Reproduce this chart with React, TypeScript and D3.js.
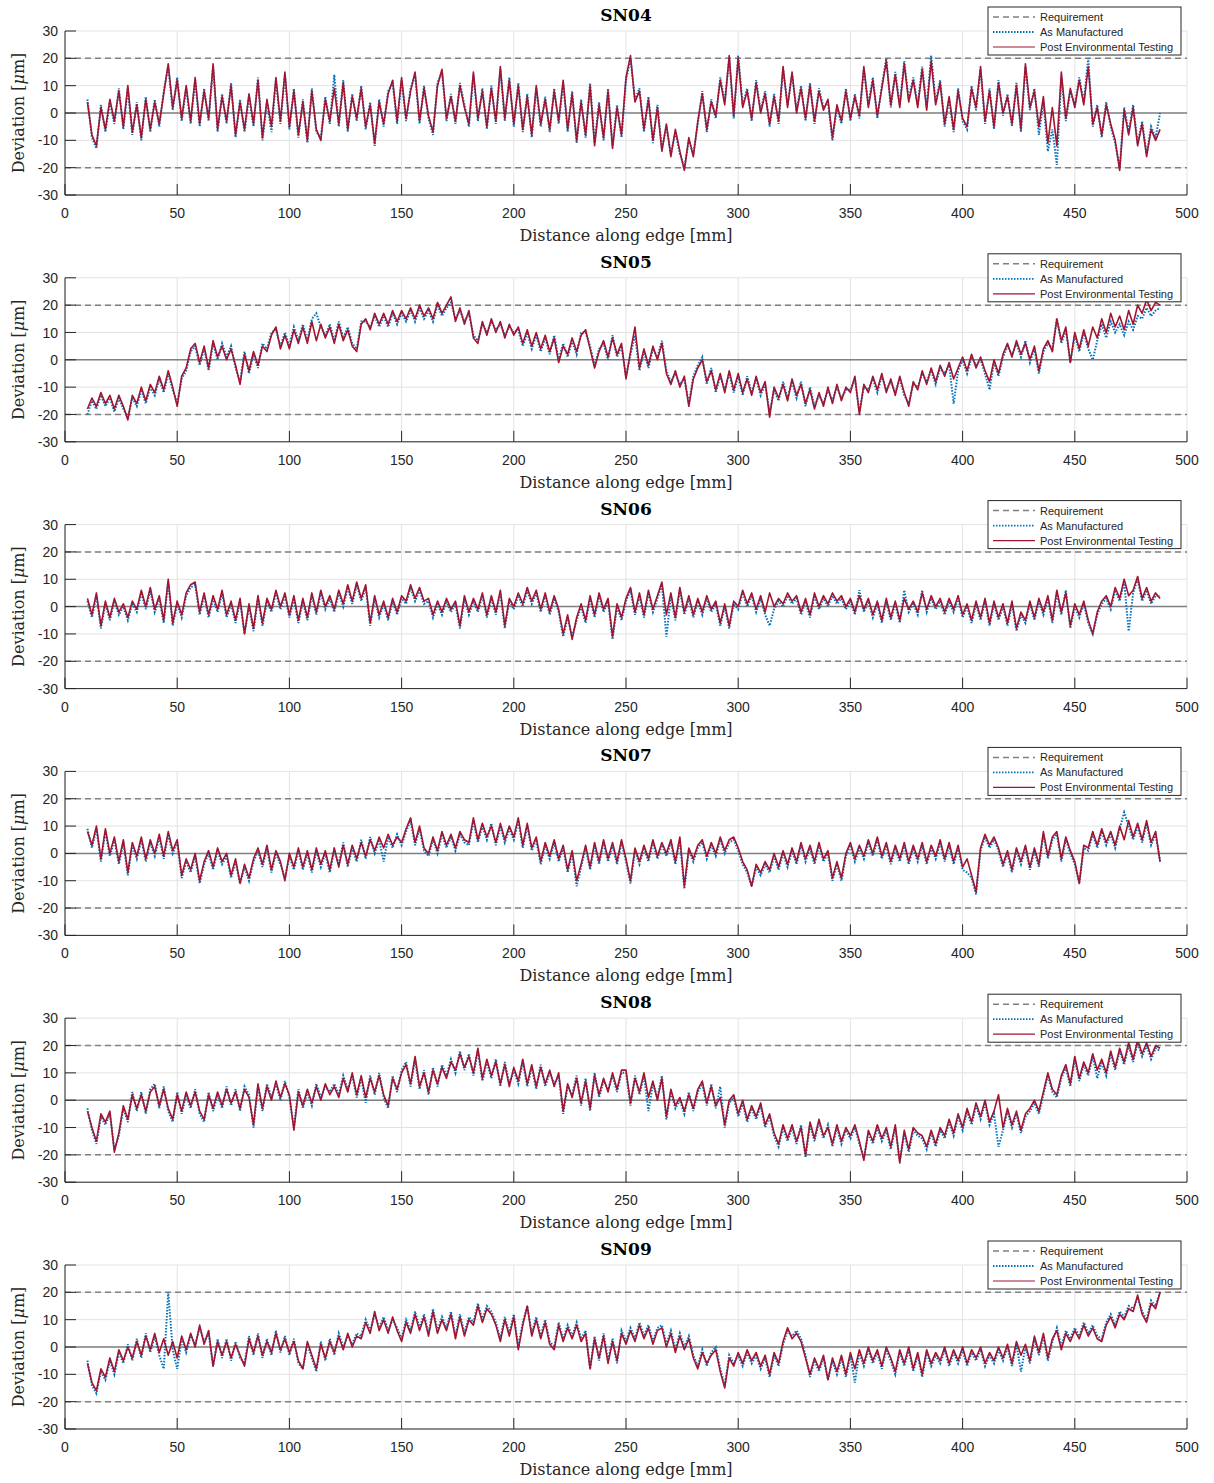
import * as d3 from 'd3';

// --- Data (deviation in µm, read every 2 mm from 10 mm to 488 mm) ---
const DISTANCE_MM = d3.range(10, 490, 2);
const PANEL_NAMES = ['SN04', 'SN05', 'SN06', 'SN07', 'SN08', 'SN09'];
const X_TICKS = [0, 50, 100, 150, 200, 250, 300, 350, 400, 450, 500];
const Y_TICKS = [-30, -20, -10, 0, 10, 20, 30];
const REQUIREMENT = [-20, 20];
const LEGEND_LABELS = ['Requirement', 'As Manufactured', 'Post Environmental Testing'];

const SN04_AS = [
  5, -9, -13, 3, -7, 4, -4, 9, -6, 9, -8, 4, -10, 6, -7, 5, -5, 8, 17, 1, 13, -3, 9, -4,
  12, -5, 9, -3, 17, -7, 7, -4, 11, -9, 5, -7, 6, -5, 13, -10, 4, -7, 12, -4, 14, -6, 9, -9,
  5, -11, 9, -7, -9, 6, -4, 14, -5, 12, -7, 7, -3, 10, -6, 4, -12, 5, -5, 8, 11, -4, 12, -3,
  9, 14, -4, 10, -2, -8, 11, 15, -3, 7, -4, 11, 3, -5, 14, -3, 9, -6, 10, -4, 16, -3, 13, -5,
  11, -7, 7, -9, 9, -5, 6, -7, 9, -4, 11, -7, 8, -11, 5, -9, 11, -11, 4, -10, 9, -12, 3, -9,
  12, 20, 5, 9, -7, 6, -11, 3, -13, -5, -15, -7, -15, -20, -10, -15, -4, 8, -7, 5, -2, 13, 4, 20,
  -2, 21, 3, 9, -3, 12, 1, 8, -5, 7, -4, 16, 3, 14, 1, 10, -3, 11, -4, 9, 2, 4, -10, 2,
  -4, 9, -3, 7, -2, 16, 3, 13, -2, 10, 20, 2, 15, 3, 19, 5, 13, 3, 17, 2, 21, 4, 12, -5,
  5, -7, 9, -3, -6, 10, 1, 16, -4, 9, -6, 12, -1, 7, -5, 11, -7, 17, 1, 9, -8, 4, -14, -6,
  -19, 13, -3, 8, 3, 13, 4, 20, -5, 3, -9, 4, -5, -11, -20, 2, -7, 3, -11, -3, -15, -5, -9, 0,
];
const SN04_POST = [
  4, -8, -12, 2, -6, 5, -3, 8, -5, 10, -7, 3, -9, 5, -6, 4, -4, 7, 18, 2, 12, -2, 10, -3,
  13, -4, 8, -2, 18, -6, 6, -3, 10, -8, 4, -6, 7, -4, 12, -9, 5, -5, 13, -3, 15, -5, 8, -8,
  4, -10, 8, -6, -10, 5, -3, 9, -4, 11, -6, 6, -2, 9, -5, 3, -11, 4, -4, 7, 12, -3, 13, -2,
  8, 15, -3, 9, -1, -7, 10, 16, -2, 6, -3, 10, 2, -4, 15, -2, 8, -5, 9, -3, 17, -2, 12, -4,
  10, -6, 6, -8, 10, -4, 5, -6, 8, -3, 12, -6, 7, -10, 4, -8, 10, -12, 3, -9, 8, -13, 2, -8,
  13, 21, 4, 8, -6, 5, -10, 2, -14, -4, -16, -6, -14, -21, -9, -16, -3, 7, -6, 4, -1, 12, 3, 21,
  -1, 20, 2, 8, -2, 11, 0, 7, -4, 6, -3, 17, 2, 15, 0, 9, -2, 10, -3, 8, 1, 5, -9, 3,
  -3, 8, -2, 6, -1, 17, 2, 12, -1, 9, 19, 3, 14, 2, 18, 4, 12, 2, 16, 1, 19, 3, 11, -4,
  6, -6, 8, -2, -5, 9, 2, 17, -3, 8, -5, 11, 0, 6, -4, 10, -6, 18, 2, 8, -5, 6, -11, 2,
  -12, 15, -2, 9, 2, 12, 3, 17, -4, 2, -8, 3, -4, -10, -21, 1, -8, 2, -12, -4, -16, -6, -10, -6,
];

const SN05_AS = [
  -20, -15, -18, -13, -17, -14, -19, -14, -18, -21, -14, -17, -11, -16, -10, -13, -7, -12, -5, -11, -16, -7, -4, 3,
  5, -2, 4, -4, 6, 0, 6, 1, 5, -3, -8, 3, -5, 2, -3, 6, 4, 10, 11, 5, 10, 5, 12, 7,
  13, 7, 15, 17, 12, 9, 13, 7, 14, 8, 12, 6, 4, 14, 14, 12, 16, 12, 16, 12, 17, 13, 17, 14,
  18, 14, 19, 15, 18, 14, 20, 16, 19, 21, 15, 18, 14, 17, 9, 7, 13, 10, 14, 11, 13, 9, 12, 10,
  11, 5, 10, 4, 9, 3, 8, 2, 9, 0, 6, 1, 7, 2, 10, 10, 5, -2, 4, 6, 0, 9, 1, 5,
  -6, 2, 9, -4, 3, -3, 4, 1, 7, -4, -8, -5, -9, -7, -16, -6, -2, 1, -9, -3, -12, -6, -11, -5,
  -12, -6, -13, -6, -12, -7, -13, -9, -19, -11, -15, -8, -14, -8, -14, -8, -17, -10, -17, -13, -16, -11, -15, -10,
  -14, -11, -11, -7, -19, -10, -11, -7, -12, -6, -11, -8, -12, -7, -13, -16, -9, -10, -5, -8, -4, -9, -3, -5,
  -2, -16, -4, 0, -5, 1, -2, 0, -5, -11, -1, -6, 1, 5, 2, 6, 1, 7, -1, 4, -5, 3, 6, 4,
  15, 6, 11, -1, 9, 3, 10, 4, 0, 7, 13, 8, 14, 10, 13, 9, 14, 11, 16, 15, 19, 16, 18, 19,
];
const SN05_POST = [
  -18, -14, -17, -12, -16, -13, -18, -13, -17, -22, -13, -16, -10, -15, -9, -12, -6, -11, -4, -10, -17, -6, -3, 4,
  6, -1, 5, -3, 7, 1, 5, 0, 4, -2, -9, 2, -4, 3, -2, 5, 3, 9, 12, 4, 9, 4, 11, 6,
  12, 6, 14, 7, 13, 8, 12, 6, 13, 7, 11, 5, 3, 13, 15, 11, 17, 13, 17, 13, 18, 14, 18, 15,
  19, 15, 20, 16, 19, 15, 21, 17, 20, 23, 14, 19, 13, 18, 8, 6, 14, 9, 15, 10, 14, 8, 13, 9,
  12, 6, 11, 5, 10, 4, 9, 3, 8, -1, 5, 2, 8, 3, 9, 11, 4, -3, 3, 7, 1, 8, 2, 6,
  -7, 3, 12, -3, 4, -2, 5, 0, 6, -5, -9, -4, -10, -6, -17, -7, -3, 0, -8, -4, -11, -5, -12, -4,
  -11, -5, -12, -7, -13, -6, -12, -8, -21, -10, -14, -9, -15, -7, -13, -9, -16, -11, -18, -12, -17, -10, -16, -9,
  -15, -10, -12, -6, -20, -9, -12, -6, -11, -5, -12, -7, -13, -6, -12, -17, -8, -11, -4, -9, -3, -8, -2, -6,
  -1, -7, -3, 1, -4, 2, -3, 1, -4, -8, 0, -5, 2, 6, 1, 7, 2, 6, 0, 5, -4, 4, 7, 3,
  15, 7, 12, -1, 10, 4, 11, 5, 12, 8, 15, 10, 17, 12, 16, 11, 18, 13, 20, 17, 22, 18, 21, 20,
];

const SN06_AS = [
  2, -4, 4, -8, 1, -5, 2, -3, 0, -5, 1, -2, 5, -1, 6, -2, 3, -6, 9, -7, 1, -4, 4, 7,
  8, -3, 4, -4, 3, -2, 5, -4, 1, -6, 2, -10, 0, -9, 3, -7, 2, -2, 5, -1, 4, -4, 3, -6,
  2, -5, 4, -3, 5, -1, 3, -2, 5, 0, 7, 1, 8, 2, 7, -7, 3, -4, 1, -5, 2, -3, 3, 1,
  7, 2, 6, 1, 2, -4, 1, -3, 2, -2, 1, -8, 3, -3, 2, -2, 4, -4, 3, -3, 5, -8, 2, -1,
  4, 0, 6, 1, 5, -2, 4, -3, 3, -2, -11, -4, -11, -5, 0, -6, 3, -4, 4, -2, 2, -12, 0, -5,
  2, 6, -3, 4, -4, 5, -2, 3, 8, -11, 4, -5, 6, -3, 3, -4, 2, -3, 3, -2, 1, -7, 0, -8,
  1, -1, 5, 0, 4, -2, 3, -3, -7, -1, 2, 0, 4, 1, 3, -3, 2, -4, 4, -1, 3, 0, 4, 1,
  3, -1, 2, -3, 6, -2, 2, -4, 1, -6, 2, -5, 1, -6, 6, -2, 1, -3, 6, -2, 3, -1, 2, -3,
  2, -2, 3, -4, 0, -6, 1, -5, 2, -7, 1, -5, 0, -7, 1, -9, -3, -6, 1, -5, 2, -3, 3, -6,
  5, -3, 6, -8, 0, -4, 1, -6, -10, -3, 1, 3, -1, 6, 2, 9, -9, 5, 10, 2, 6, 1, 4, 4,
];
const SN06_POST = [
  3, -3, 5, -7, 2, -4, 3, -2, 1, -4, 2, -1, 6, 0, 7, -1, 4, -5, 10, -6, 2, -3, 5, 8,
  9, -2, 5, -3, 4, -1, 6, -3, 2, -5, 3, -10, 1, -8, 4, -6, 3, -1, 6, 0, 5, -3, 4, -5,
  3, -4, 5, -2, 6, 0, 4, -1, 6, 1, 8, 2, 9, 3, 8, -6, 4, -3, 2, -4, 3, -2, 4, 2,
  8, 3, 7, 2, 3, -3, 2, -2, 3, -1, 2, -7, 4, -2, 3, -1, 5, -3, 4, -2, 6, -7, 3, 0,
  5, 1, 7, 2, 6, -1, 5, -2, 4, -1, -10, -3, -12, -4, 1, -5, 4, -3, 5, -1, 3, -11, 1, -4,
  3, 7, -2, 5, -3, 6, -1, 4, 9, -3, 5, -4, 7, -2, 4, -3, 3, -2, 4, -1, 2, -6, 1, -7,
  2, 0, 6, 1, 5, -1, 4, -2, 5, 0, 3, 1, 5, 2, 4, -2, 3, -3, 5, 0, 4, 1, 5, 2,
  4, 0, 3, -2, 4, -1, 3, -3, 2, -5, 3, -4, 2, -5, 3, -1, 2, -2, 5, -1, 4, 0, 3, -2,
  3, -1, 4, -3, 1, -5, 2, -4, 3, -6, 2, -4, 1, -6, 2, -8, -2, -5, 2, -4, 3, -2, 4, -5,
  6, -2, 5, -7, 1, -3, 2, -5, -10, -2, 2, 4, 0, 7, 3, 10, 4, 6, 11, 3, 7, 2, 5, 3,
];

const SN07_AS = [
  9, 2, 9, -3, 8, -1, 5, -4, 4, -8, 3, -2, 5, -3, 4, -1, 6, -2, 7, 0, 4, -9, -3, -7,
  -1, -11, -4, 0, -6, 1, -4, -1, -9, -3, -11, -5, -10, -3, 1, -5, 2, -7, 0, -4, -9, -1, -6, 1,
  -6, 0, -7, 1, -5, 0, -7, 1, -4, 4, -5, 2, -3, 5, -2, 6, 0, 5, -3, 6, 2, 7, 3, 8,
  12, 3, 9, 1, -1, 5, 0, 7, 2, 6, 1, 7, 4, 3, 12, 4, 10, 5, 11, 3, 10, 4, 9, 5,
  12, 2, 10, 1, 5, -4, 3, -2, 4, -3, 2, -7, 0, -12, -5, 2, -6, 3, -4, 4, -3, 3, -4, 4,
  -3, -11, 1, -4, 2, -3, 4, -2, 3, -1, 4, -4, 5, -13, 1, -3, 2, 4, -2, 3, -1, 5, 0, 4,
  5, 1, -4, -7, -12, -5, -8, -4, -7, -1, -6, 0, -5, 1, -4, 3, -3, 2, -4, 3, -3, 0, -10, -4,
  -10, -1, 3, -3, 2, -2, 4, -1, 5, -2, 3, -4, 2, -3, 3, -4, 2, -3, 3, -4, 2, -2, 4, -3,
  3, -4, 2, -6, -7, -9, -15, 1, 6, 2, 5, 1, -5, 0, -7, 1, -4, 2, -6, 1, -5, 7, -2, 5,
  7, -3, 5, 0, -4, -11, 2, 1, 7, 2, 8, 3, 7, 2, 9, 15, 10, 5, 10, 4, 11, 3, 7, -3,
];
const SN07_POST = [
  8, 3, 10, -2, 9, 0, 6, -3, 5, -7, 4, -1, 6, -2, 5, 0, 7, -1, 8, 1, 5, -8, -2, -6,
  0, -10, -3, 1, -5, 2, -3, 0, -8, -2, -11, -4, -9, -2, 2, -4, 3, -6, 1, -3, -10, 0, -5, 2,
  -5, 1, -6, 2, -4, 1, -6, 2, -5, 3, -4, 3, -2, 4, -1, 5, 1, 6, 2, 7, 3, 6, 4, 9,
  13, 4, 10, 2, 0, 6, 1, 8, 3, 7, 2, 8, 5, 4, 13, 5, 11, 6, 10, 4, 11, 5, 10, 6,
  13, 3, 11, 2, 6, -3, 4, -1, 5, -2, 3, -6, 1, -10, -4, 3, -5, 4, -3, 5, -2, 4, -3, 5,
  -2, -10, 2, -3, 3, -2, 5, -1, 4, 0, 5, -3, 6, -12, 2, -2, 3, 5, -1, 4, 0, 6, 1, 5,
  6, 2, -3, -6, -12, -4, -7, -3, -6, 0, -5, 1, -4, 2, -3, 4, -2, 3, -3, 4, -2, 1, -9, -3,
  -9, 0, 4, -2, 3, -1, 5, 0, 6, -1, 4, -3, 3, -2, 4, -3, 3, -2, 4, -3, 3, -1, 5, -2,
  4, -3, 3, -5, -2, -8, -14, 2, 7, 3, 6, 2, -4, 1, -6, 2, -3, 3, -5, 2, -4, 8, -1, 6,
  8, -2, 6, 1, -3, -11, 3, 2, 8, 3, 9, 4, 8, 3, 10, 5, 12, 6, 11, 5, 12, 4, 8, -3,
];

const SN08_AS = [
  -3, -11, -16, -6, -9, -5, -18, -13, -3, -8, 3, -4, 3, -5, 4, 6, -3, 5, -4, -8, 3, -5, 2, -3,
  4, -5, -8, 3, -4, 2, -3, 5, -2, 4, -4, 5, 2, -10, 5, -4, 6, 1, 6, 0, 7, 1, -10, 4,
  -3, 3, -2, 6, 1, 5, 3, 6, 2, 9, 4, 9, 1, 8, -1, 9, 2, 10, 1, -3, 9, 3, 11, 14,
  5, 15, 4, 11, 2, 12, 5, 13, 9, 15, 10, 18, 11, 17, 9, 18, 7, 14, 8, 15, 5, 14, 6, 11,
  6, 14, 5, 12, 4, 13, 5, 10, 6, 9, -5, 5, 2, 9, -2, 8, -4, 10, 1, 7, 4, 9, 3, 10,
  10, -2, 9, 2, 9, -4, 6, 1, 9, -7, 3, -3, 0, -5, 3, -4, 3, 6, -2, 6, -3, 5, -10, -1,
  1, -6, -1, -8, -3, -7, -2, -10, -6, -13, -17, -10, -15, -10, -16, -9, -21, -9, -15, -8, -14, -9, -17, -10,
  -16, -11, -14, -10, -16, -21, -12, -16, -10, -15, -11, -18, -10, -22, -12, -19, -11, -13, -14, -18, -12, -17, -11, -14,
  -8, -13, -6, -11, -4, -9, -2, -7, -1, -9, -5, -17, -11, -4, -10, -5, -12, -6, -4, -1, -5, 2, 9, 3,
  1, 8, 12, 5, 15, 7, 13, 9, 16, 8, 14, 9, 17, 11, 18, 13, 20, 14, 21, 16, 20, 15, 19, 18,
];
const SN08_POST = [
  -4, -10, -15, -5, -8, -4, -19, -12, -2, -7, 2, -3, 2, -4, 3, 5, -2, 4, -3, -7, 2, -4, 3, -2,
  3, -4, -7, 2, -3, 3, -2, 4, -1, 3, -3, 4, 1, -9, 6, -3, 5, 0, 7, 1, 6, 2, -11, 3,
  -2, 4, -1, 5, 0, 6, 2, 5, 1, 8, 3, 10, 2, 9, 1, 8, 3, 9, 2, -2, 8, 4, 10, 13,
  6, 16, 5, 10, 3, 11, 6, 12, 8, 14, 11, 17, 12, 16, 10, 19, 8, 15, 9, 14, 6, 13, 5, 12,
  7, 15, 6, 13, 5, 12, 6, 11, 5, 10, -4, 6, 1, 8, -1, 7, -3, 9, 2, 8, 3, 10, 4, 11,
  11, -1, 8, 3, 10, 1, 7, 0, 8, -6, 4, -2, 1, -4, 2, -3, 4, 7, -1, 5, -2, 1, -9, 0,
  2, -5, 0, -7, -2, -6, -1, -9, -5, -12, -16, -9, -14, -9, -15, -10, -20, -8, -14, -7, -13, -10, -16, -9,
  -15, -10, -13, -9, -15, -22, -11, -15, -9, -14, -10, -17, -9, -23, -11, -18, -10, -12, -13, -17, -11, -16, -10, -13,
  -7, -12, -5, -10, -3, -8, -1, -6, 0, -8, -4, 2, -10, -3, -9, -4, -11, -5, -3, 0, -4, 3, 10, 4,
  2, 9, 13, 6, 16, 8, 14, 10, 17, 11, 15, 10, 18, 12, 19, 14, 21, 15, 22, 17, 21, 16, 20, 19,
];

const SN09_AS = [
  -5, -14, -17, -9, -12, -5, -10, -2, -6, 1, -5, 3, -4, 5, -2, 4, -3, -8, 20, -1, -8, 3, -2, 4,
  1, 7, 2, 5, -7, 3, -4, 3, -5, 2, -4, -6, 4, -3, 5, -4, 3, -3, 6, -2, 4, -3, 3, -6,
  -8, 1, -4, -9, 2, -5, 3, -3, 5, 0, 4, 1, 5, 4, 10, 6, 12, 7, 11, 6, 10, 7, 3, 10,
  6, 13, 7, 12, 5, 14, 6, 11, 7, 13, 4, 12, 5, 11, 9, 16, 10, 15, 13, 9, 3, 11, 5, 12,
  0, 9, 15, 5, 11, 4, 10, 2, 0, 9, 3, 8, 4, 9, 3, 6, -8, 4, -5, 5, -5, 3, -6, 6,
  2, 7, 3, 9, 4, 8, 2, 7, 8, 1, 6, -1, 5, 0, 4, -3, -7, -1, -7, -2, 0, -8, -14, -3,
  -6, -3, -7, -2, -6, -3, -8, -4, -11, -3, -7, 1, 6, 4, 6, 3, -3, -11, -5, -9, -4, -12, -5, -10,
  -4, -11, -3, -13, -2, -7, -1, -6, -2, -8, -1, -5, -10, -2, -7, -1, -9, -3, -11, -2, -7, -3, -6, -1,
  -7, -2, -6, -1, -7, -2, -5, -1, -7, -3, -6, -1, -5, 0, -7, 1, -9, 0, -6, 3, -3, 4, -5, 2,
  7, 0, 6, 3, 7, 4, 9, 5, 8, 4, 3, 9, 12, 8, 13, 11, 15, 14, 18, 13, 10, 17, 15, 20,
];
const SN09_POST = [
  -6, -13, -16, -8, -11, -4, -9, -1, -5, 0, -4, 2, -3, 4, -1, 5, -2, 3, -3, 2, -4, 4, -1, 5,
  0, 8, 1, 6, -7, 2, -3, 2, -4, 1, -3, -7, 3, -2, 4, -3, 2, -2, 5, -1, 3, -2, 2, -5,
  -8, 2, -3, -8, 1, -4, 2, -2, 4, -1, 5, 0, 4, 3, 9, 5, 13, 6, 10, 5, 11, 6, 2, 9,
  5, 12, 6, 11, 4, 13, 5, 10, 6, 12, 3, 11, 4, 10, 8, 15, 9, 14, 12, 8, 2, 10, 4, 11,
  -1, 8, 15, 4, 10, 3, 9, 1, -1, 8, 2, 7, 3, 8, 2, 5, -8, 3, -4, 4, -6, 2, -5, 5,
  1, 6, 2, 8, 3, 7, 1, 6, 7, 0, 5, -2, 4, -1, 3, -4, -8, -2, -6, -3, -1, -9, -15, -4,
  -7, -2, -6, -1, -5, -2, -7, -3, -10, -2, -6, 2, 7, 3, 5, 2, -4, -10, -4, -8, -3, -12, -4, -9,
  -3, -10, -2, -8, -1, -6, 0, -5, -1, -7, 0, -4, -9, -1, -6, 0, -8, -2, -10, -1, -6, -2, -5, 0,
  -6, -1, -5, 0, -6, -1, -4, 0, -6, -2, -5, 0, -4, 1, -6, 2, -3, 1, -5, 4, -2, 5, -4, 3,
  6, -1, 5, 2, 6, 3, 8, 4, 7, 3, 2, 8, 11, 7, 12, 10, 14, 13, 19, 12, 9, 16, 14, 20,
];

const AS_MANUFACTURED = [SN04_AS, SN05_AS, SN06_AS, SN07_AS, SN08_AS, SN09_AS];
const POST_TESTING = [SN04_POST, SN05_POST, SN06_POST, SN07_POST, SN08_POST, SN09_POST];

// --- Styling ---
const W = 1214;
const H = 1483;
const AX_LEFT = 65;
const AX_RIGHT = 1187;
const AX_H = 164;
const FIRST_TOP = 31;
const PANEL_STEP = 246.8;
const BLUE = '#0072BD';
const RED = '#A2142F';
const AXIS_COLOR = '#262626';
const GRID_COLOR = '#e3e3e3';
const SANS = '"Liberation Sans", Arial, Helvetica, sans-serif';
const SERIF = '"DejaVu Serif", "Liberation Serif", serif';

const Panel = ({ name, asMan, post, top }) => {
  const x = d3.scaleLinear().domain([0, 500]).range([AX_LEFT, AX_RIGHT]);
  const y = d3.scaleLinear().domain([-30, 30]).range([top + AX_H, top]);
  const line = d3.line<number>()
    .defined((_, i) => i < DISTANCE_MM.length)
    .x((_, i) => x(DISTANCE_MM[i]))
    .y((d) => y(d));
  const bottom = top + AX_H;
  const mid = (AX_LEFT + AX_RIGHT) / 2;

  const legX = 988;
  const legY = top - 24;
  const legendStyles = [
    { stroke: '#808080', dash: '6,4', width: 1.5 },
    { stroke: BLUE, dash: '1.5,1.5', width: 1.8 },
    { stroke: RED, dash: null, width: 1.2 },
  ];

  return (
    <g>
      {/* grid */}
      {X_TICKS.map((t) => (
        <line key={'gx' + t} x1={x(t)} x2={x(t)} y1={top} y2={bottom} stroke={GRID_COLOR} strokeWidth={1} />
      ))}
      {Y_TICKS.map((t) => (
        <line key={'gy' + t} x1={AX_LEFT} x2={AX_RIGHT} y1={y(t)} y2={y(t)} stroke={GRID_COLOR} strokeWidth={1} />
      ))}

      {/* zero and requirement lines */}
      <line x1={AX_LEFT} x2={AX_RIGHT} y1={y(0)} y2={y(0)} stroke="#808080" strokeWidth={1.5} />
      {REQUIREMENT.map((r) => (
        <line key={'req' + r} x1={AX_LEFT} x2={AX_RIGHT} y1={y(r)} y2={y(r)}
          stroke="#808080" strokeWidth={1.5} strokeDasharray="6,4" />
      ))}

      {/* data */}
      <path d={line(asMan) ?? ''} fill="none" stroke={BLUE} strokeWidth={2} strokeDasharray="1.5,1.5" />
      <path d={line(post) ?? ''} fill="none" stroke={RED} strokeWidth={1.6} strokeLinejoin="round" />

      {/* axes */}
      <line x1={AX_LEFT} x2={AX_LEFT} y1={top} y2={bottom} stroke={AXIS_COLOR} strokeWidth={1} />
      <line x1={AX_LEFT} x2={AX_RIGHT} y1={bottom} y2={bottom} stroke={AXIS_COLOR} strokeWidth={1} />
      {X_TICKS.map((t) => (
        <g key={'xt' + t}>
          <line x1={x(t)} x2={x(t)} y1={bottom} y2={bottom - 11} stroke={AXIS_COLOR} strokeWidth={1} />
          <text x={x(t)} y={bottom + 23} textAnchor="middle" fontFamily={SANS} fontSize={14} fill={AXIS_COLOR}>{t}</text>
        </g>
      ))}
      {Y_TICKS.map((t) => (
        <g key={'yt' + t}>
          <line x1={AX_LEFT} x2={AX_LEFT + 11} y1={y(t)} y2={y(t)} stroke={AXIS_COLOR} strokeWidth={1} />
          <text x={AX_LEFT - 7} y={y(t)} dy="0.36em" textAnchor="end" fontFamily={SANS} fontSize={14} fill={AXIS_COLOR}>{t}</text>
        </g>
      ))}

      {/* labels */}
      <text x={mid} y={top - 10} textAnchor="middle" fontFamily={SERIF} fontWeight="bold" fontSize={17} fill="#000">{name}</text>
      <text x={mid} y={bottom + 46} textAnchor="middle" fontFamily={SERIF} fontSize={16} fill={AXIS_COLOR}>Distance along edge [mm]</text>
      <text transform={`translate(24,${(top + bottom) / 2}) rotate(-90)`} textAnchor="middle" fontFamily={SERIF} fontSize={16} fill={AXIS_COLOR}>
        Deviation [<tspan fontStyle="italic">μ</tspan>m]
      </text>

      {/* legend */}
      <rect x={legX} y={legY} width={193} height={48} fill="#fff" stroke={AXIS_COLOR} strokeWidth={1} />
      {LEGEND_LABELS.map((label, i) => {
        const ly = legY + 10 + i * 15;
        const s = legendStyles[i];
        return (
          <g key={label}>
            <line x1={legX + 5} x2={legX + 47} y1={ly} y2={ly} stroke={s.stroke} strokeWidth={s.width}
              strokeDasharray={s.dash ?? undefined} />
            <text x={legX + 52} y={ly} dy="0.36em" fontFamily={SANS} fontSize={11} fill={AXIS_COLOR}>{label}</text>
          </g>
        );
      })}
    </g>
  );
};

function App() {
  return (
    <div style={{ position: 'absolute', left: 0, top: 0 }}>
      <svg width={W} height={H} style={{ display: 'block', background: '#fff' }}>
        {PANEL_NAMES.map((name, k) => (
          <Panel key={name} name={name} asMan={AS_MANUFACTURED[k]} post={POST_TESTING[k]} top={FIRST_TOP + k * PANEL_STEP} />
        ))}
      </svg>
    </div>
  );
}

export default App;
